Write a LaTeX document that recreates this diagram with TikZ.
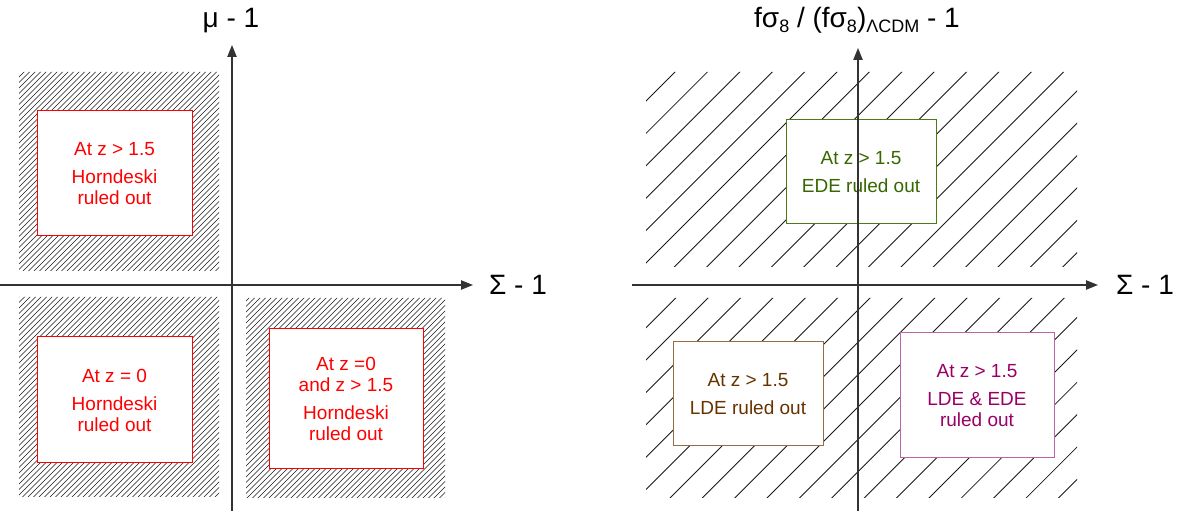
\documentclass[tikz,border=0pt]{standalone}
\usepackage{fontspec}
\setmainfont{Liberation Sans}
\usetikzlibrary{arrows.meta}
\definecolor{hred}{RGB}{255,0,0}
\definecolor{edetext}{RGB}{56,102,0}
\definecolor{edeline}{RGB}{77,122,20}
\definecolor{ldetext}{RGB}{102,51,0}
\definecolor{ldeline}{RGB}{150,110,70}
\definecolor{bothtext}{RGB}{153,0,102}
\definecolor{bothline}{RGB}{190,100,165}
\newcommand{\subsc}[1]{\raisebox{-0.28ex}{\fontsize{13.5}{13.5}\selectfont #1}}
\begin{document}
\begin{tikzpicture}[x=0.75pt,y=-0.75pt,
  boxtext/.style={font=\fontsize{14.25}{15.75}\selectfont, align=center, fill=white, draw, line width=0.75pt, inner sep=0pt},
  axisline/.style={line width=1pt, draw=black!80, -{Triangle[length=9pt,width=7pt]}},
  axlabel/.style={font=\fontsize{21}{24}\selectfont, inner sep=0pt, anchor=base},
  densehatch/.style={line width=0.5pt, black!90},
  sparsehatch/.style={line width=0.65pt, black!90}]
\useasboundingbox (0,0) rectangle (1183,513);

% dense hatching (left panel)
\begin{scope}
\clip (19,72) rectangle (219,271) (19,297) rectangle (219,497) (246,298) rectangle (445,498);
\foreach \c in {85,90.5,...,950} \draw[densehatch] (\c,0) -- ({\c-520},520);
\end{scope}

% sparse hatching (right panel)
\begin{scope}
\clip (646,72) rectangle (1077,267) (646,298) rectangle (1077,498);
\foreach \k in {-2,...,28} \draw[sparsehatch] ({747+32.38*\k},0) -- ({747+32.38*\k-520},520);
\end{scope}

% boxes
\node[boxtext, draw=hred, text=hred, minimum width=116.25pt, minimum height=93.75pt] (hz15) at (114.5,173.5)
  {At z > 1.5\\[5.25pt]Horndeski\\ruled out};
\node[boxtext, draw=hred, text=hred, minimum width=116.25pt, minimum height=94.5pt] (hz0) at (114.5,400)
  {At z = 0\\[5.25pt]Horndeski\\ruled out};
\node[boxtext, draw=hred, text=hred, minimum width=115.5pt, minimum height=105pt] (hzboth) at (346,399)
  {At z =0\\and z > 1.5\\[5.25pt]Horndeski\\ruled out};
\node[boxtext, draw=edeline, text=edetext, minimum width=112.5pt, minimum height=78pt] (ede) at (861,172)
  {At z > 1.5\\[5.25pt]EDE ruled out};
\node[boxtext, draw=ldeline, text=ldetext, minimum width=112.5pt, minimum height=78pt] (lde) at (748,394)
  {At z > 1.5\\[5.25pt]LDE ruled out};
\node[boxtext, draw=bothline, text=bothtext, minimum width=115.5pt, minimum height=93.75pt] (both) at (977,395.5)
  {At z > 1.5\\[5.25pt]LDE \& EDE\\ruled out};

% axes left
\coordinate (lx0) at (0,285);
\coordinate (lx1) at (473,285);
\coordinate (ly0) at (232,511);
\coordinate (ly1) at (232,45);
\draw[axisline] (lx0) -- (lx1);
\draw[axisline] (ly0) -- (ly1);
\node[axlabel] (lxl) at (518,295) {Σ - 1};
\node[axlabel] (lyl) at (231,28) {μ - 1};

% axes right
\coordinate (rx0) at (632,285);
\coordinate (rx1) at (1098,285);
\coordinate (ry0) at (858,511);
\coordinate (ry1) at (858,48);
\draw[axisline] (rx0) -- (rx1);
\draw[axisline] (ry0) -- (ry1);
\node[axlabel] (rxl) at (1145,295) {Σ - 1};
\node[axlabel] (ryl) at (857,28) {fσ\subsc{8} / (fσ\subsc{8})\subsc{ΛCDM} - 1};
\end{tikzpicture}
\end{document}
